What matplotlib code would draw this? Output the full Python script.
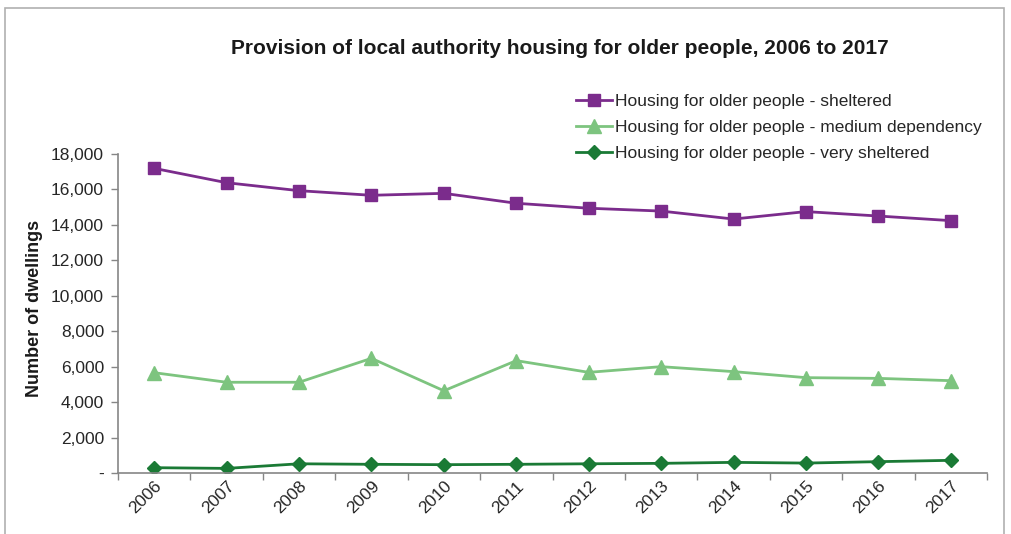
import matplotlib
matplotlib.use("Agg")
import matplotlib.pyplot as plt
from matplotlib.patches import Rectangle
from matplotlib.ticker import FuncFormatter, FixedLocator

plt.rcParams['font.family'] = ['Liberation Sans', 'DejaVu Sans']

years = ['2006', '2007', '2008', '2009', '2010', '2011',
         '2012', '2013', '2014', '2015', '2016', '2017']
sheltered = [17190, 16380, 15930, 15670, 15780, 15220,
             14940, 14780, 14330, 14750, 14500, 14240]
medium_dependency = [5660, 5120, 5120, 6470, 4640, 6340,
                     5680, 6000, 5720, 5380, 5340, 5210]
very_sheltered = [300, 260, 520, 490, 470, 490,
                  520, 545, 600, 560, 640, 715]

series_labels = ['Housing for older people - sheltered',
                 'Housing for older people - medium dependency',
                 'Housing for older people - very sheltered']

W, H = 1011, 534
fig = plt.figure(figsize=(W / 100, H / 100), dpi=100)

# chart area border
fig.patches.append(Rectangle((5 / W, -0.05), 999 / W, 1.05 - 8 / H,
                             transform=fig.transFigure, fill=False,
                             edgecolor='#b0b0b0', linewidth=1.2))

ax = fig.add_axes([118 / W, 1 - 473 / H, (987 - 118) / W, (473 - 154) / H])

x = list(range(len(years)))
ax.plot(x, sheltered, color='#7B2C8C', lw=2.0, marker='s', markersize=8.5,
        label=series_labels[0])
ax.plot(x, medium_dependency, color='#7DC47F', lw=2.0, marker='^', markersize=9.5,
        label=series_labels[1])
ax.plot(x, very_sheltered, color='#1A7A35', lw=2.0, marker='D', markersize=7,
        label=series_labels[2])

ax.set_xlim(-0.5, len(years) - 0.5)
ax.set_ylim(0, 18000)
ax.set_yticks(range(0, 18001, 2000))
ax.yaxis.set_major_formatter(FuncFormatter(lambda v, p: '-' if v == 0 else f'{int(v):,}'))

ax.set_xticks(x)
ax.set_xticklabels(years, rotation=45, ha='right', va='top', rotation_mode='anchor')
ax.xaxis.set_minor_locator(FixedLocator([i - 0.5 for i in range(len(years) + 1)]))
ax.tick_params(axis='x', which='major', length=0, pad=4, labelsize=12.5, colors='#262626')
ax.tick_params(axis='x', which='minor', length=5, width=1, color='#868686')
ax.tick_params(axis='y', length=5, width=1, color='#868686', labelsize=12.5,
               labelcolor='#262626', pad=5)

for side in ('top', 'right'):
    ax.spines[side].set_visible(False)
for side in ('left', 'bottom'):
    ax.spines[side].set_color('#868686')
    ax.spines[side].set_linewidth(1.2)

ax.set_ylabel('Number of dwellings', fontsize=13, fontweight='bold', color='#1a1a1a')
ax.yaxis.set_label_coords(-0.086, 0.515)

fig.text(560 / W, 1 - 48 / H,
         'Provision of local authority housing for older people, 2006 to 2017',
         ha='center', va='center', fontsize=15, fontweight='bold', color='#1a1a1a')

fig.legend(loc='upper left', bbox_to_anchor=(569 / W, 1 - 87 / H), frameon=False,
           fontsize=12.5, handlelength=2.1, handletextpad=0.15, labelspacing=0.62,
           borderaxespad=0, labelcolor='#262626')

fig.savefig('out.png', dpi=100)
